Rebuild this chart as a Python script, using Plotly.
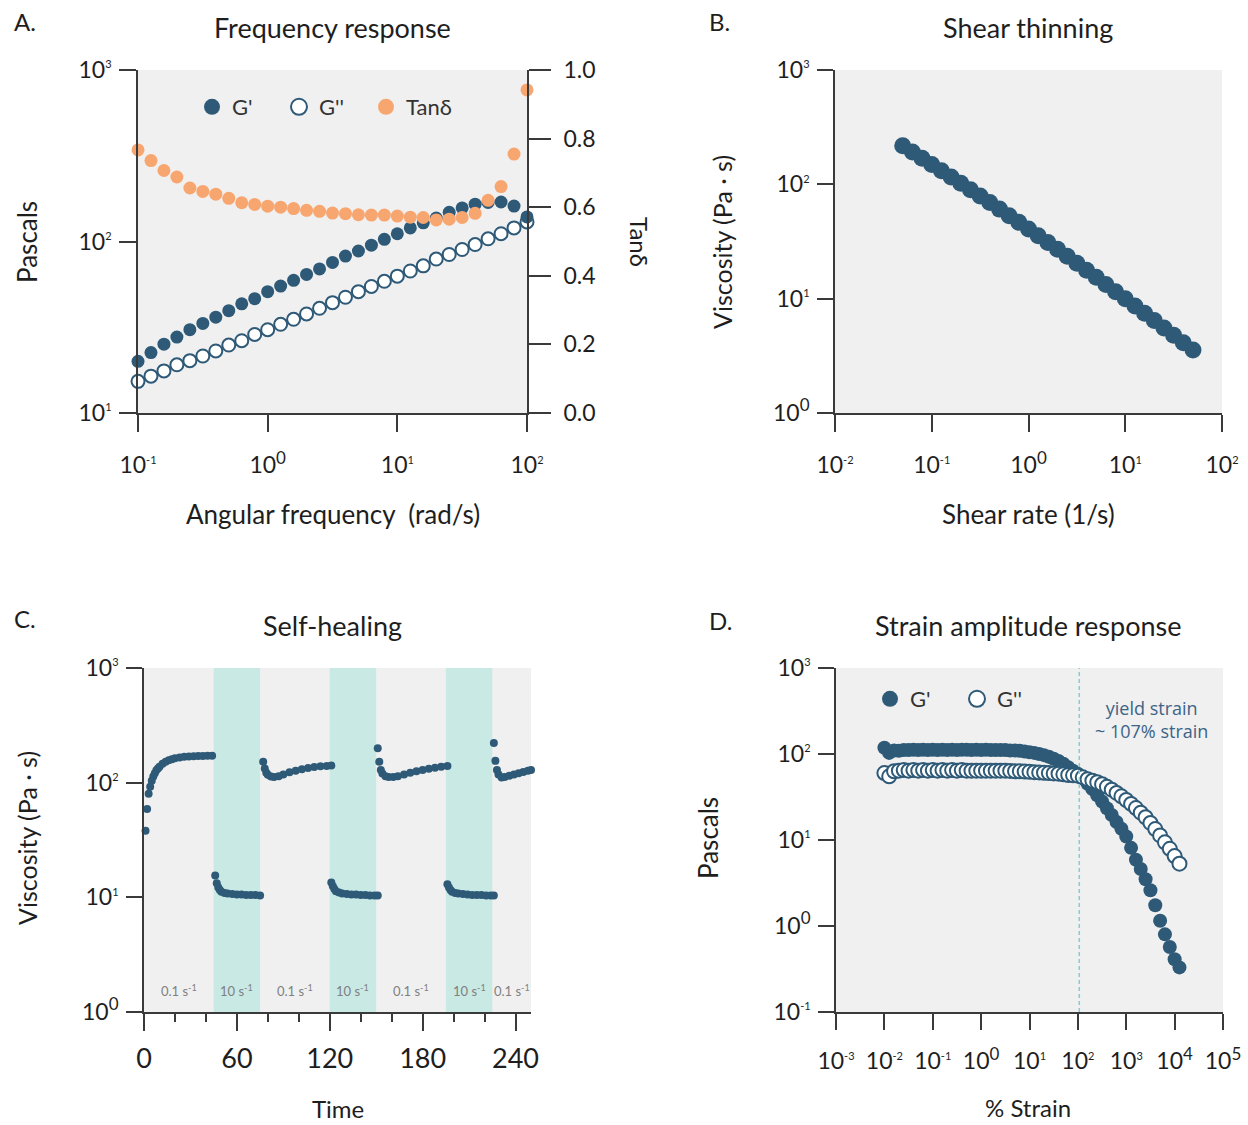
import math
import plotly.graph_objects as go

W, H = 1248, 1125
BLUE = "#2E5A78"
ORANGE = "#F7A66F"
BG = "#F0F0F0"
BAND = "#C8E9E4"
TEAL_LINE = "#7FCFCB"
AXIS = "#3A3A3A"
TEXT = "#1E1E1E"
FONT = "Lato"

# ---------------- A. Frequency response ----------------
freq = [0.1, 0.1259, 0.1585, 0.1995, 0.2512, 0.3162, 0.3981, 0.5012, 0.631, 0.7943,
        1.0, 1.259, 1.585, 1.995, 2.512, 3.162, 3.981, 5.012, 6.31, 7.943,
        10.0, 12.59, 15.85, 19.95, 25.12, 31.62, 39.81, 50.12, 63.1, 79.43, 100.0]
g_storage_a = [20.0, 22.5, 25.2, 27.7, 30.6, 33.3, 36.2, 39.5, 43.3, 46.4,
               51.0, 55.0, 59.4, 64.3, 69.2, 75.5, 82.2, 88.0, 95.2, 103,
               111, 120, 128.5, 137, 148, 157, 165, 169, 170, 161, 139]
g_loss_a = [15.3, 16.4, 17.6, 19.1, 20.2, 21.5, 23.0, 24.9, 26.4, 28.7,
            30.6, 32.9, 35.2, 37.8, 40.8, 44.0, 47.3, 51.0, 54.7, 58.6,
            62.8, 67.3, 72.1, 79.0, 84.0, 89.8, 96.0, 103.7, 111, 120, 130]
tan_delta = [0.767, 0.736, 0.707, 0.688, 0.656, 0.646, 0.638, 0.626, 0.613, 0.608,
             0.603, 0.600, 0.596, 0.591, 0.588, 0.583, 0.581, 0.578, 0.577, 0.577,
             0.574, 0.571, 0.570, 0.563, 0.565, 0.570, 0.582, 0.620, 0.660, 0.755, 0.942]

# ---------------- B. Shear thinning ----------------
shear_rate = [0.0501, 0.0631, 0.0794, 0.1, 0.1259, 0.1585, 0.1995, 0.2512, 0.3162, 0.3981,
              0.5012, 0.631, 0.7943, 1.0, 1.259, 1.585, 1.995, 2.512, 3.162, 3.981,
              5.012, 6.31, 7.943, 10.0, 12.59, 15.85, 19.95, 25.12, 31.62, 39.81, 50.12]
viscosity_b = [218, 192, 169, 149, 131.5, 116, 102, 89.8, 78.9, 69.2,
               60.7, 53.1, 46.5, 40.6, 35.5, 31.0, 27.0, 23.5, 20.4, 17.7,
               15.4, 13.3, 11.5, 9.98, 8.63, 7.45, 6.43, 5.55, 4.79, 4.12, 3.56]

# ---------------- C. Self-healing (alternating shear rates) ----------------
rest1_t = [1, 2, 3, 4, 5, 6, 7, 8, 9, 10, 12, 14, 16, 18, 20, 23, 26, 29, 32, 35, 38, 41, 44]
rest1_v = [38, 59, 80, 92, 104, 113, 121, 128, 133, 138, 146, 152, 157, 160, 163, 166, 168,
           169, 170, 171, 171, 172, 172]
high1_t = [46, 47, 48, 49, 50, 52, 54, 57, 60, 63, 66, 69, 72, 75]
high1_v = [15.5, 13.3, 12.2, 11.6, 11.2, 10.9, 10.8, 10.7, 10.6, 10.6, 10.5, 10.5, 10.5, 10.4]
rest2_t = [77, 78, 79, 80, 82, 84, 87, 90, 94, 98, 102, 106, 110, 114, 118, 121]
rest2_v = [152, 133, 122, 117, 113, 112, 114, 118, 123, 127, 131, 134, 137, 139, 140, 141]
high2_t = [121, 122, 123, 124, 126, 128, 131, 134, 137, 140, 143, 146, 149, 151]
high2_v = [13.5, 12.5, 11.8, 11.3, 11.0, 10.8, 10.7, 10.6, 10.6, 10.5, 10.5, 10.4, 10.4, 10.4]
rest3_t = [151, 152, 153, 154, 156, 158, 161, 164, 168, 172, 176, 180, 184, 188, 192, 196]
rest3_v = [200, 152, 129, 120, 114, 112, 112, 114, 118, 122, 126, 129, 132, 135, 138, 140]
high3_t = [196, 197, 198, 199, 201, 203, 206, 209, 212, 215, 218, 221, 224, 226]
high3_v = [13.0, 12.2, 11.6, 11.2, 10.9, 10.8, 10.7, 10.6, 10.5, 10.5, 10.5, 10.4, 10.4, 10.4]
rest4_t = [226, 227, 228, 229, 231, 233, 236, 239, 242, 245, 248, 250]
rest4_v = [222, 155, 129, 118, 111, 112, 115, 118, 121, 124, 127, 129]

high_shear_windows = [(45, 75), (120, 150), (195, 225)]
segment_edges = [0, 45, 75, 120, 150, 195, 225, 250]
segment_labels = ["0.1 s<sup>-1</sup>", "10 s<sup>-1</sup>", "0.1 s<sup>-1</sup>", "10 s<sup>-1</sup>",
                  "0.1 s<sup>-1</sup>", "10 s<sup>-1</sup>", "0.1 s<sup>-1</sup>"]

# ---------------- D. Strain amplitude response ----------------
strain = [0.01, 0.01259, 0.01585, 0.01995, 0.02512, 0.03162, 0.03981, 0.05012, 0.0631, 0.07943,
          0.1, 0.1259, 0.1585, 0.1995, 0.2512, 0.3162, 0.3981, 0.5012, 0.631, 0.7943,
          1.0, 1.259, 1.585, 1.995, 2.512, 3.162, 3.981, 5.012, 6.31, 7.943,
          10.0, 12.59, 15.85, 19.95, 25.12, 31.62, 39.81, 50.12, 63.1, 79.43,
          100.0, 125.9, 158.5, 199.5, 251.2, 316.2, 398.1, 501.2, 631.0, 794.3,
          1000.0, 1259, 1585, 1995, 2512, 3162, 3981, 5012, 6310, 7943,
          10000, 12590]
g_storage_d = [118, 103, 110, 109, 111, 111, 112, 111, 112, 111,
               112, 111, 112, 111, 112, 111, 112, 112, 111, 112,
               111, 112, 111, 111, 111, 111, 110, 110, 109, 107,
               105, 103, 100, 97, 93, 88, 83, 77, 70, 64,
               59, 52, 45, 39, 33, 28, 23.4, 19.5, 16.2, 13.5,
               11, 8.1, 5.9, 4.6, 3.5, 2.6, 1.74, 1.15, 0.8, 0.57,
               0.41, 0.33]
g_loss_d = [60, 55, 63, 64, 65, 64, 65, 64, 65, 64,
            65, 64, 65, 64, 65, 64, 65, 64, 64, 64,
            64, 64, 64, 64, 64, 64, 63.5, 63, 63, 62.5,
            62, 61.5, 61, 60.5, 60, 59.5, 59, 58, 57, 56.5,
            56, 53.5, 51, 49, 47, 44.5, 41.5, 38.5, 35.3, 32.2,
            29.2, 26.3, 23.5, 20.8, 18.4, 15.8, 13.4, 11.3, 9.4, 7.9,
            6.5, 5.3]
yield_strain = 107


def px(x):
    return x / W


def py(y):
    return 1 - y / H


def pow10(e, big=False):
    size = 17 if big else 11
    return f"10<sup><span style='font-size:{size}px'>{e}</span></sup>"


FILLED = dict(color=BLUE)
HOLLOW = dict(color="white", line=dict(color=BLUE, width=2))

fig = go.Figure()

# A: tan delta behind, then G'' and G'
fig.add_trace(go.Scatter(x=freq, y=tan_delta, mode="markers", showlegend=False,
                         marker=dict(size=13, color=ORANGE), xaxis="x", yaxis="y2",
                         cliponaxis=False))
fig.add_trace(go.Scatter(x=freq, y=g_loss_a, mode="markers", showlegend=False,
                         marker=dict(size=13, **HOLLOW), xaxis="x", yaxis="y", cliponaxis=False))
fig.add_trace(go.Scatter(x=freq, y=g_storage_a, mode="markers", showlegend=False,
                         marker=dict(size=13, **FILLED), xaxis="x", yaxis="y", cliponaxis=False))

# legend entries for A (larger symbols than the data markers)
for name, mk, rank in [("G'", FILLED, 1), ("G''", HOLLOW, 2), ("Tanδ", dict(color=ORANGE), 3)]:
    fig.add_trace(go.Scatter(x=[None], y=[None], mode="markers", name=name, legendrank=rank,
                             marker=dict(size=16, **mk), xaxis="x", yaxis="y", legend="legend"))

# B
fig.add_trace(go.Scatter(x=shear_rate, y=viscosity_b, mode="markers", showlegend=False,
                         marker=dict(size=17, color=BLUE), xaxis="x2", yaxis="y3"))

# C
time_c = rest1_t + high1_t + rest2_t + high2_t + rest3_t + high3_t + rest4_t
visc_c = rest1_v + high1_v + rest2_v + high2_v + rest3_v + high3_v + rest4_v
fig.add_trace(go.Scatter(x=time_c, y=visc_c, mode="markers", showlegend=False,
                         marker=dict(size=8, color=BLUE), xaxis="x3", yaxis="y4",
                         cliponaxis=False))

# D
fig.add_trace(go.Scatter(x=strain, y=g_storage_d, mode="markers", showlegend=False,
                         marker=dict(size=14, **FILLED), xaxis="x4", yaxis="y5"))
fig.add_trace(go.Scatter(x=strain, y=g_loss_d, mode="markers", showlegend=False,
                         marker=dict(size=14, **HOLLOW), xaxis="x4", yaxis="y5"))
for name, mk, rank in [("G'", FILLED, 1), ("G''", HOLLOW, 2)]:
    fig.add_trace(go.Scatter(x=[None], y=[None], mode="markers", name=name, legendrank=rank,
                             marker=dict(size=16, **mk), xaxis="x4", yaxis="y5", legend="legend2"))

axis_common = dict(showline=True, linecolor=AXIS, linewidth=1.6, ticks="outside",
                   tickcolor=AXIS, tickwidth=1.6, showgrid=False, zeroline=False,
                   automargin=False, tickfont=dict(family=FONT, size=23, color=TEXT))

dom_top = [py(413), py(70)]
dom_bot = [py(1012), py(668)]

legend_style = dict(orientation="h", xanchor="left", yanchor="middle",
                    bgcolor="rgba(0,0,0,0)", font=dict(family=FONT, size=22, color="#333"),
                    entrywidth=42, entrywidthmode="pixels", itemclick=False,
                    itemdoubleclick=False)

fig.update_layout(
    width=W, height=H, autosize=False,
    margin=dict(l=0, r=0, t=0, b=0, pad=0, autoexpand=False),
    paper_bgcolor="white", plot_bgcolor=BG,
    font=dict(family=FONT, color=TEXT),
    xaxis=dict(axis_common, type="log", domain=[px(138), px(527)], range=[-1, 2], anchor="y",
               tickvals=[0.1, 1, 10, 100],
               ticktext=[pow10(-1), pow10(0, True), pow10(1), pow10(2)],
               ticklen=17, ticklabelstandoff=14),
    yaxis=dict(axis_common, type="log", domain=dom_top, range=[1, 3], anchor="x",
               tickvals=[10, 100, 1000], ticktext=[pow10(1), pow10(2), pow10(3)],
               ticklen=17, ticklabelstandoff=3),
    yaxis2=dict(axis_common, overlaying="y", side="right", anchor="x", range=[0, 1],
                tickvals=[0, 0.2, 0.4, 0.6, 0.8, 1.0],
                ticktext=["0.0", "0.2", "0.4", "0.6", "0.8", "1.0"],
                ticklen=22, ticklabelstandoff=8),
    xaxis2=dict(axis_common, type="log", domain=[px(835), px(1222)], range=[-2, 2], anchor="y3",
                tickvals=[0.01, 0.1, 1, 10, 100],
                ticktext=[pow10(-2), pow10(-1), pow10(0, True), pow10(1), pow10(2)],
                ticklen=17, ticklabelstandoff=14),
    yaxis3=dict(axis_common, type="log", domain=dom_top, range=[0, 3], anchor="x2",
                tickvals=[1, 10, 100, 1000],
                ticktext=[pow10(0, True), pow10(1), pow10(2), pow10(3)],
                ticklen=16, ticklabelstandoff=3),
    xaxis3=dict(axis_common, domain=[px(144), px(531)], range=[0, 250], anchor="y4",
                tickvals=[0, 60, 120, 180, 240], ticklen=17, ticklabelstandoff=5,
                tickfont=dict(family=FONT, size=27, color=TEXT),
                minor=dict(dtick=20, tick0=0, ticklen=8, ticks="outside",
                           tickcolor=AXIS, tickwidth=1.6)),
    yaxis4=dict(axis_common, type="log", domain=dom_bot, range=[0, 3], anchor="x3",
                tickvals=[1, 10, 100, 1000],
                ticktext=[pow10(0, True), pow10(1), pow10(2), pow10(3)],
                ticklen=16, ticklabelstandoff=3),
    xaxis4=dict(axis_common, type="log", domain=[px(836), px(1223)], range=[-3, 5], anchor="y5",
                tickvals=[1e-3, 1e-2, 1e-1, 1, 10, 100, 1e3, 1e4, 1e5],
                ticktext=[pow10(-3), pow10(-2), pow10(-1), pow10(0, True), pow10(1),
                          pow10(2), pow10(3), pow10(4, True), pow10(5, True)],
                ticklen=16, ticklabelstandoff=12),
    yaxis5=dict(axis_common, type="log", domain=dom_bot, range=[-1, 3], anchor="x4",
                tickvals=[0.1, 1, 10, 100, 1000],
                ticktext=[pow10(-1), pow10(0, True), pow10(1), pow10(2), pow10(3)],
                ticklen=16, ticklabelstandoff=3),
    legend=dict(legend_style, x=px(192), y=py(107)),
    legend2=dict(legend_style, x=px(870), y=py(699)),
)

# high-shear windows in C
for t0, t1 in high_shear_windows:
    fig.add_shape(type="rect", xref="x3", yref="y4 domain", x0=t0, x1=t1, y0=0, y1=1,
                  fillcolor=BAND, line=dict(width=0), layer="below")

# yield strain marker in D
fig.add_shape(type="line", xref="x4", yref="y5 domain",
              x0=yield_strain, x1=yield_strain, y0=0, y1=1,
              line=dict(color=TEAL_LINE, width=1.5, dash="4px,3px"))

annotations = []


def label(text, x, y, size, **kw):
    d = dict(text=text, x=px(x), y=py(y), xref="paper", yref="paper", showarrow=False,
             font=dict(family=FONT, size=size, color=TEXT), xanchor="center", yanchor="middle")
    d.update(kw)
    annotations.append(d)


# panel titles and letters
label("Frequency response", 332, 28, 27)
label("Shear thinning", 1028, 28, 27)
label("Self-healing", 332, 625, 27)
label("Strain amplitude response", 1028, 625, 27)
label("A.", 25, 22, 24)
label("B.", 720, 22, 24)
label("C.", 25, 618, 24)
label("D.", 721, 620, 24)

# axis titles
label("Angular frequency  (rad/s)", 333, 514, 26)
label("Shear rate (1/s)", 1028, 514, 26)
label("Time", 338, 1108, 24)
label("% Strain", 1028, 1107, 24)
label("Pascals", 27, 242, 26, textangle=-90)
label("Viscosity (Pa · s)", 722, 242, 25, textangle=-90)
label("Viscosity (Pa · s)", 27, 838, 25, textangle=-90)
label("Pascals", 708, 838, 26, textangle=-90)
label("Tanδ", 640, 242, 24, textangle=90)

# yield strain note
annotations.append(dict(text="yield strain<br>~ 107% strain", x=px(1151), y=py(719),
                        xref="paper", yref="paper", showarrow=False, align="center",
                        font=dict(family="Open Sans", size=18, color="#3C6487"),
                        xanchor="center", yanchor="middle"))

# shear-rate labels under each segment of C
for i, txt in enumerate(segment_labels):
    mid = (segment_edges[i] + segment_edges[i + 1]) / 2
    annotations.append(dict(text=txt, x=mid, y=math.log10(1.55), xref="x3", yref="y4",
                            showarrow=False, font=dict(family=FONT, size=13, color="#808080"),
                            xanchor="center", yanchor="middle"))

fig.update_layout(annotations=annotations)

fig.write_html("out.html")
